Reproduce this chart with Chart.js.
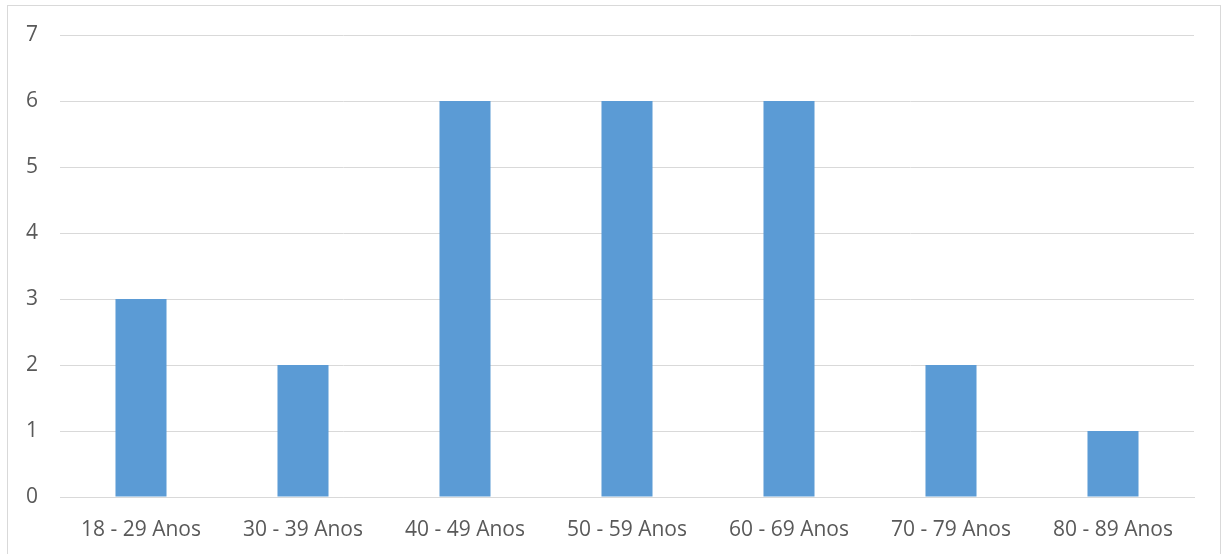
<!DOCTYPE html>
<html>
<head>
<meta charset="utf-8">
<script src="https://cdn.jsdelivr.net/npm/chart.js@4"></script>
<style>
  html, body { margin: 0; padding: 0; background: #fff; }
  #wrap { width: 1223px; height: 554px; position: relative; }
</style>
</head>
<body>
<div id="wrap"><canvas id="c" width="1223" height="554"></canvas></div>
<script>
const categories = ['18 - 29 Anos', '30 - 39 Anos', '40 - 49 Anos', '50 - 59 Anos', '60 - 69 Anos', '70 - 79 Anos', '80 - 89 Anos'];
const counts = [3, 2, 6, 6, 6, 2, 1];
const yTicks = [0, 1, 2, 3, 4, 5, 6, 7];

const textColor = '#595959';
const gridColor = '#d9d9d9';
const fontFamily = '"Open Sans", "Liberation Sans", sans-serif';

// outer frame around the whole chart
const framePlugin = {
  id: 'frame',
  beforeDraw(chart) {
    const ctx = chart.ctx;
    ctx.save();
    ctx.strokeStyle = '#d9d9d9';
    ctx.lineWidth = 1;
    ctx.strokeRect(7.5, 5.5, 1213, 600);
    ctx.restore();
  }
};

new Chart(document.getElementById('c'), {
  type: 'bar',
  data: {
    labels: categories,
    datasets: [{
      data: counts,
      backgroundColor: '#5b9bd5',
      borderWidth: 0,
      categoryPercentage: 1,
      barPercentage: 0.315
    }]
  },
  options: {
    responsive: false,
    animation: false,
    layout: { padding: { left: 8, right: 29, top: 35, bottom: 0 } },
    plugins: { legend: { display: false }, tooltip: { enabled: false } },
    scales: {
      x: {
        grid: { display: false, drawTicks: false },
        border: { display: true, color: gridColor, width: 1 },
        ticks: { color: textColor, font: { family: fontFamily, size: 21 }, padding: 20, maxRotation: 0 },
        afterFit(scale) { scale.height = 57; }
      },
      y: {
        min: 0,
        max: 7,
        afterBuildTicks(scale) { scale.ticks = yTicks.map(v => ({ value: v })); },
        grid: { color: gridColor, lineWidth: 1, drawTicks: false },
        border: { display: false },
        ticks: { color: textColor, font: { family: fontFamily, size: 21 }, padding: 22 },
        afterFit(scale) { scale.width = 52; }
      }
    }
  },
  plugins: [framePlugin]
});
</script>
</body>
</html>
